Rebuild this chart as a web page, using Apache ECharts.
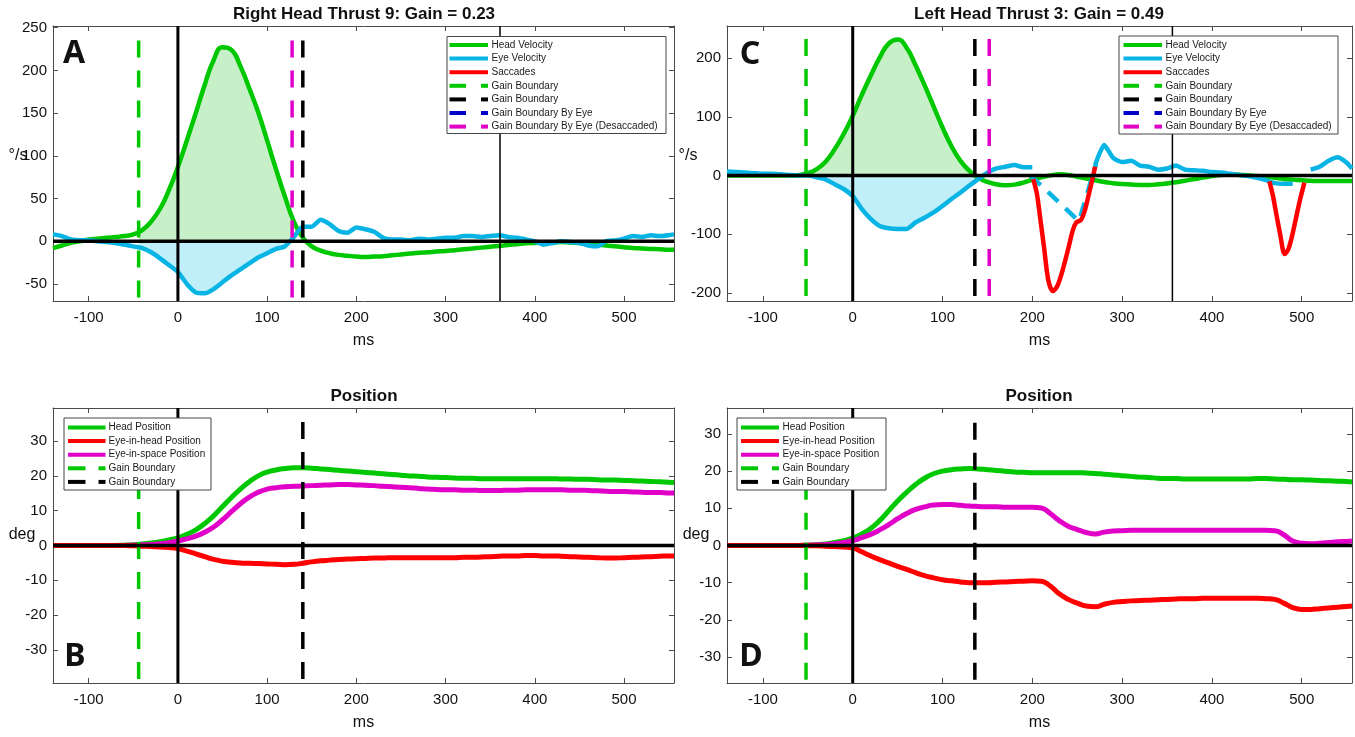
<!DOCTYPE html>
<html><head><meta charset="utf-8">
<script src="https://cdn.jsdelivr.net/npm/echarts@6/dist/echarts.min.js"></script>
<style>html,body{margin:0;padding:0;background:#fff}#c{width:1355px;height:737px}</style>
</head><body><div id="c"></div>
<script>
// ---------- DATA ----------
const timeMs = [
 -140,-130,-120,-110,-100,-90,-80,-70,-60,-50,
 -40,-30,-20,-10,0,10,20,30,40,50,
 60,70,80,90,100,110,120,130,140,150,
 160,170,180,190,200,210,220,230,240,250,
 260,270,280,290,300,310,320,330,340,350,
 360,370,380,390,400,410,420,430,440,450,
 460,470,480,490,500,510,520,530,540,550,
 556];
const xTicks = [-100,0,100,200,300,400,500];
const velTicksA = [-50,0,50,100,150,200,250];
const velTicksC = [-200,-100,0,100,200];
const posTicks = [-30,-20,-10,0,10,20,30];
const xRange = [-140,556];
const yRangeA = [-70,252], yRangeC = [-214,255], yRangeB = [-39.5,39.5], yRangeD = [-37,37];

const headVelA = [
 -8,-5,-2,0,2,3,4,5,6,8,
 13,23,38,60,87,118,150,183,212,227,
 224,205,179,151,118,84,52,23,4,-6,
 -11,-14,-16,-17,-18,-18.5,-18,-17.5,-16.5,-15.5,
 -14.5,-13.5,-13,-12,-11.5,-10.5,-9.5,-8.5,-7.5,-6.5,
 -5.5,-4.5,-3.5,-2.5,-2,-1.5,-1.2,-1,-1.5,-2,
 -3,-4,-5,-6,-7,-8,-8.5,-9,-9.5,-10,
 -10];
const eyeVelA = [
 8,6,2,1,1,0,-1,-2,-4,-6,
 -8,-13,-20,-28,-36,-50,-60,-61,-56,-48,
 -40,-33,-26,-19,-14,-9,-6,5,17,17,
 25,20,12,10,16,14,11,4,2,2,
 1,3,2,3,4,4,6,6,5,6,
 7,5,4,2,0,-4,-2,0,-1,-2,
 -5,-6,0,1,3,6,5,7,6,7,
 8];
const headVelC = [
 0,0,0,0,0,0,0,0,1,4,
 11,24,45,71,102,137,170,201,225,232,
 218,188,154,118,82,50,25,8,-4,-11,
 -15,-16.5,-15.5,-12,-7,-3,0,2,1,-2,
 -5,-8,-11,-13,-14.5,-15.5,-16,-16,-15,-13.5,
 -11.5,-9,-6,-3.5,-1,1,2,1.5,0.5,-1,
 -2,-4,-6,-7,-8,-9,-9.5,-9.5,-9.5,-9.5,
 -9.5];
const eyeVelC = [
 7,6,5,4,3,3,2,1,0,0,
 -3,-7,-15,-23,-35,-57,-74,-86,-90,-91,
 -91,-80,-72,-63,-52,-40,-29,-17,-6,5,
 12,15,18,14,14,null,null,null,null,null,
 null,18,52,30,23,25,17,15,10,12,
 17,10,9,8,6,5,3,1,-1,-4,
 -8,-13,-14,-14,null,10,15,25,31,22,
 12];
const eyeDesacT = [198,252,271];
const eyeDesacV = [0,-78,20];
const sacc1T = [201,205,209,213,218,223,228,234,240,245,249,254,258,262,266,270];
const sacc1V = [-6,-30,-75,-122,-180,-197,-188,-160,-125,-94,-80,-76,-62,-38,-12,15];
const sacc2T = [464,468,472,476,481,485,489,493,498,503];
const sacc2V = [-10,-35,-68,-100,-134,-126,-105,-77,-42,-12];

const headPosB = [
 0,0,0,0,0,0,0,0,0.1,0.2,
 0.4,0.7,1.1,1.6,2.2,3.2,4.5,6.3,8.5,11.2,
 13.8,16.2,18.3,20.0,21.1,21.7,22.1,22.3,22.3,22.2,
 22.0,21.8,21.6,21.4,21.2,21.0,20.8,20.6,20.4,20.2,
 20.0,19.9,19.7,19.6,19.5,19.4,19.3,19.3,19.2,19.2,
 19.2,19.2,19.2,19.2,19.2,19.2,19.2,19.1,19.1,19.0,
 19.0,18.9,18.8,18.8,18.7,18.6,18.5,18.4,18.3,18.2,
 18.1];
const eyeSpacePosB = [
 0,0,0,0,0,0,0,0,0,0.1,
 0.2,0.3,0.5,0.8,1.3,1.9,2.7,3.8,5.3,7.4,
 9.7,12.0,13.9,15.3,16.2,16.6,16.9,17.0,17.1,17.2,
 17.3,17.4,17.5,17.5,17.4,17.3,17.2,17.0,16.9,16.7,
 16.6,16.4,16.2,16.1,16.0,16.0,15.9,15.9,15.8,15.8,
 15.8,15.9,15.9,16.0,16.0,16.0,16.0,16.0,15.9,15.9,
 15.8,15.7,15.6,15.5,15.5,15.4,15.3,15.2,15.2,15.1,
 15.1];
const eyeHeadPosB = [
 0,0,0,0,0,0,0,0,0,-0.1,
 -0.2,-0.3,-0.4,-0.6,-0.9,-1.6,-2.4,-3.2,-4.0,-4.5,
 -4.8,-5.0,-5.1,-5.2,-5.3,-5.4,-5.5,-5.4,-5.1,-4.7,
 -4.4,-4.2,-4.0,-3.9,-3.8,-3.7,-3.6,-3.6,-3.5,-3.5,
 -3.5,-3.5,-3.5,-3.5,-3.5,-3.5,-3.4,-3.4,-3.3,-3.2,
 -3.1,-3.0,-3.0,-2.9,-2.9,-3.0,-3.0,-3.1,-3.2,-3.3,
 -3.4,-3.5,-3.6,-3.6,-3.5,-3.4,-3.3,-3.2,-3.1,-3.0,
 -3.0];
const headPosD = [
 0,0,0,0,0,0,0,0,0,0.1,
 0.2,0.4,0.8,1.3,2.0,3.1,4.6,6.7,9.3,12.0,
 14.3,16.4,18.1,19.3,20.0,20.4,20.6,20.7,20.6,20.4,
 20.2,20.0,19.8,19.7,19.6,19.6,19.6,19.6,19.6,19.6,
 19.5,19.4,19.2,19.0,18.8,18.6,18.4,18.3,18.1,18.0,
 18.0,17.9,17.9,17.9,17.9,17.9,17.9,17.9,17.9,18.0,
 18.0,17.9,17.8,17.7,17.7,17.6,17.5,17.4,17.3,17.2,
 17.1];
const eyeSpacePosD = [
 0,0,0,0,0,0,0,0,0,0.1,
 0.2,0.3,0.5,0.8,1.3,2.1,3.0,4.2,5.6,7.2,
 8.6,9.7,10.4,10.9,11.0,11.0,10.8,10.6,10.5,10.4,
 10.4,10.3,10.3,10.3,10.3,10.1,8.6,6.7,5.2,4.3,
 3.5,3.1,3.6,3.9,4.0,4.1,4.1,4.1,4.1,4.1,
 4.1,4.1,4.1,4.1,4.1,4.1,4.1,4.1,4.1,4.1,
 4.1,4.0,2.9,1.2,0.6,0.5,0.6,0.8,1.0,1.1,
 1.2];
const eyeHeadPosD = [
 0,0,0,0,0,0,0,0,0,-0.05,
 -0.1,-0.2,-0.3,-0.4,-0.6,-1.7,-2.8,-3.8,-4.7,-5.6,
 -6.4,-7.3,-8.1,-8.7,-9.2,-9.5,-9.8,-10.0,-10.0,-10.0,
 -9.9,-9.8,-9.7,-9.6,-9.5,-9.6,-10.9,-13.0,-14.5,-15.5,
 -16.3,-16.5,-15.8,-15.3,-15.1,-14.9,-14.8,-14.7,-14.6,-14.5,
 -14.4,-14.3,-14.3,-14.2,-14.2,-14.2,-14.2,-14.2,-14.2,-14.2,
 -14.3,-14.5,-15.5,-16.7,-17.2,-17.2,-17.0,-16.8,-16.6,-16.4,
 -16.3];

// boundaries: [green gain, black gain, magenta (desaccaded)]
const gainBoundsA = [-44,140,128];
const gainBoundsC = [-52,136,152];
const gainBoundsB = [-44,140];
const gainBoundsD = [-52,136];
const dashTopVel = [235,233];
const dashTopPos = [35.5,33];
const thinLineMs = [361,356];

const titles = ['Right Head Thrust 9: Gain = 0.23','Left Head Thrust 3: Gain = 0.49','Position','Position'];
const panelLetters = ['A','C','B','D'];
const velLegendLabels = ['Head Velocity','Eye Velocity','Saccades','Gain Boundary','Gain Boundary','Gain Boundary By Eye','Gain Boundary By Eye (Desaccaded)'];
const posLegendLabels = ['Head Position','Eye-in-head Position','Eye-in-space Position','Gain Boundary','Gain Boundary'];

// ---------- STYLE ----------
const GREEN='#00c800', CYAN='#08b4e4', RED='#ff0000', MAGENTA='#e000c8', BLUE='#0000c8', BLACK='#000';
const FILLG='#c8f0c8', FILLC='#c0eff9';
const FONT="'Liberation Sans', Arial, sans-serif";
const AXC='#4a4a4a';

const grids = [
 {left:53, top:26, width:621, height:275},
 {left:727, top:26, width:625, height:275},
 {left:53, top:408, width:621, height:275},
 {left:727, top:408, width:625, height:275}
];
const yRanges=[yRangeA,yRangeC,yRangeB,yRangeD];
const yTicks=[velTicksA,velTicksC,posTicks,posTicks];

function pairs(ts, vs){ return ts.map((t,i)=>[t, vs[i]==null?'-':vs[i]]); }
function interp(ts,vs,x){ for(let i=0;i<ts.length-1;i++){ if(ts[i]<=x&&x<=ts[i+1]){const f=(x-ts[i])/(ts[i+1]-ts[i]);return vs[i]+f*(vs[i+1]-vs[i]);} } return 0; }
function clipSeg(ts,vs,a,b){ const out=[[a,interp(ts,vs,a)]]; ts.forEach((t,i)=>{ if(t>a&&t<b&&vs[i]!=null) out.push([t,vs[i]]); }); out.push([b,interp(ts,vs,b)]); return out; }

const xAxes=[], yAxes=[];
grids.forEach((g,i)=>{
  const base = {type:'value', gridIndex:i, min:xRange[0], max:xRange[1], splitLine:{show:false},
    axisLine:{onZero:false, lineStyle:{color:AXC,width:1}},
    axisTick:{inside:true,length:5,customValues:xTicks,lineStyle:{color:AXC}}};
  xAxes.push(Object.assign({}, base, {position:'bottom',
    axisLabel:{customValues:xTicks, margin:9, fontSize:15, color:'#111', fontFamily:FONT},
    name:'ms', nameLocation:'middle', nameGap:32, nameTextStyle:{fontSize:16,color:'#111',fontFamily:FONT}}));
  xAxes.push(Object.assign({}, base, {position:'top', axisLabel:{show:false}}));
  const yb = {type:'value', gridIndex:i, min:yRanges[i][0], max:yRanges[i][1], splitLine:{show:false},
    axisLine:{onZero:false, lineStyle:{color:AXC,width:1}},
    axisTick:{inside:true,length:5,customValues:yTicks[i],lineStyle:{color:AXC}}};
  yAxes.push(Object.assign({}, yb, {position:'left', axisLabel:{customValues:yTicks[i], margin:6, fontSize:15, color:'#111', fontFamily:FONT}}));
  yAxes.push(Object.assign({}, yb, {position:'right', axisLabel:{show:false}}));
});

const series=[];
function line(gi, data, color, width, opts){
  series.push(Object.assign({type:'line', xAxisIndex:2*gi, yAxisIndex:2*gi, data, showSymbol:false, symbol:'none',
    lineStyle:{color, width, join:'round', cap:'butt'}, z:3, smooth:0.5, connectNulls:false, silent:true, animation:false}, opts||{}));
}
function area(gi, data, color){
  series.push({type:'line', xAxisIndex:2*gi, yAxisIndex:2*gi, data, showSymbol:false, symbol:'none',
    lineStyle:{width:0, color}, areaStyle:{color, opacity:1}, z:1, smooth:0.5, silent:true, animation:false});
}
function vline(gi, t, y0, y1, color, width, dashed){
  line(gi, [[t,y0],[t,y1]], color, width, {smooth:false, z: dashed?4:5, lineStyle:{color,width,type: dashed?[17,13]:'solid', cap:'butt'}});
}
function hzero(gi){ line(gi, [[xRange[0],0],[xRange[1],0]], BLACK, 3.5, {smooth:false, z:5, lineStyle:{color:BLACK,width:3.5,cap:'butt'}}); }

// Panel A (grid 0)
area(0, clipSeg(timeMs, headVelA, gainBoundsA[0], gainBoundsA[2]), FILLG);
area(0, clipSeg(timeMs, eyeVelA, gainBoundsA[0], gainBoundsA[2]), FILLC);
line(0, pairs(timeMs, headVelA), GREEN, 4.5);
line(0, pairs(timeMs, eyeVelA), CYAN, 4.5, {smooth:0.2});
vline(0, gainBoundsA[0], dashTopVel[0], yRangeA[0], GREEN, 3.5, true);
vline(0, gainBoundsA[2], dashTopVel[0], yRangeA[0], MAGENTA, 3.5, true);
vline(0, gainBoundsA[1], dashTopVel[0], yRangeA[0], BLACK, 3.5, true);
hzero(0);
vline(0, 0, yRangeA[0], yRangeA[1], BLACK, 3, false);
vline(0, thinLineMs[0], yRangeA[0], yRangeA[1], BLACK, 1.5, false);

// Panel C (grid 1)
area(1, clipSeg(timeMs, headVelC, gainBoundsC[0], gainBoundsC[1]), FILLG);
area(1, clipSeg(timeMs, eyeVelC, gainBoundsC[0], gainBoundsC[1]), FILLC);
line(1, pairs(timeMs, headVelC), GREEN, 4.5);
line(1, pairs(timeMs, eyeVelC), CYAN, 4.5, {smooth:0.2});
line(1, pairs(eyeDesacT, eyeDesacV), CYAN, 4.5, {smooth:false, lineStyle:{color:CYAN,width:4.5,type:[14,10]}});
line(1, pairs(sacc1T, sacc1V), RED, 4.5, {smooth:0.3});
line(1, pairs(sacc2T, sacc2V), RED, 4.5, {smooth:0.3});
vline(1, gainBoundsC[0], dashTopVel[1], yRangeC[0], GREEN, 3.5, true);
vline(1, gainBoundsC[1], dashTopVel[1], yRangeC[0], BLACK, 3.5, true);
vline(1, gainBoundsC[2], dashTopVel[1], yRangeC[0], MAGENTA, 3.5, true);
hzero(1);
vline(1, 0, yRangeC[0], yRangeC[1], BLACK, 3, false);
vline(1, thinLineMs[1], yRangeC[0], yRangeC[1], BLACK, 1.5, false);

// Panel B (grid 2)
line(2, pairs(timeMs, headPosB), GREEN, 5);
line(2, pairs(timeMs, eyeSpacePosB), MAGENTA, 5);
line(2, pairs(timeMs, eyeHeadPosB), RED, 5);
vline(2, gainBoundsB[0], dashTopPos[0], yRangeB[0], GREEN, 3.5, true);
vline(2, gainBoundsB[1], dashTopPos[0], yRangeB[0], BLACK, 3.5, true);
hzero(2);
vline(2, 0, yRangeB[0], yRangeB[1], BLACK, 3, false);

// Panel D (grid 3)
line(3, pairs(timeMs, headPosD), GREEN, 5);
line(3, pairs(timeMs, eyeSpacePosD), MAGENTA, 5);
line(3, pairs(timeMs, eyeHeadPosD), RED, 5);
vline(3, gainBoundsD[0], dashTopPos[1], yRangeD[0], GREEN, 3.5, true);
vline(3, gainBoundsD[1], dashTopPos[1], yRangeD[0], BLACK, 3.5, true);
hzero(3);
vline(3, 0, yRangeD[0], yRangeD[1], BLACK, 3, false);

// ---------- GRAPHIC: titles, letters, units, legends ----------
const graphic=[];
function txt(x,y,text,size,weight,family,align){
  graphic.push({type:'text', x, y, z:120, silent:true, style:{text, fontSize:size, fontWeight:weight||'normal', fontFamily:family||FONT, fill:'#111', textAlign:align||'center', textVerticalAlign:'middle'}});
}
txt(364,14,titles[0],17,'bold');
txt(1039,14,titles[1],17,'bold');
txt(364,396,titles[2],17,'bold');
txt(1039,396,titles[3],17,'bold');
const LF="'Noto Sans', 'Open Sans', sans-serif";
txt(74,54,panelLetters[0],32,'bold',LF);
txt(750,55,panelLetters[1],32,'bold',LF);
txt(75,657,panelLetters[2],32,'bold',LF);
txt(751,657,panelLetters[3],32,'bold',LF);
txt(18,156,'°/s',16);
txt(688,156,'°/s',16);
txt(22,535,'deg',16);
txt(696,535,'deg',16);

function legend(box, sample, dash, textX, row0, labels, colors, dashed){
  graphic.push({type:'rect', z:110, silent:true, shape:{x:box[0],y:box[1],width:box[2],height:box[3]}, style:{fill:'#fff', stroke:'#444', lineWidth:1}});
  labels.forEach((lab,i)=>{
    const y = row0 + i*13.6;
    const segs = dashed[i] ? dash : [sample];
    segs.forEach(s=>graphic.push({type:'line', z:111, silent:true, shape:{x1:s[0],y1:y,x2:s[1],y2:y}, style:{stroke:colors[i], lineWidth:4}}));
    graphic.push({type:'text', x:textX, y:y, z:112, silent:true, style:{text:lab, fontSize:10, fontFamily:FONT, fill:'#1a1a1a', textAlign:'left', textVerticalAlign:'middle'}});
  });
}
const velColors=[GREEN,CYAN,RED,GREEN,BLACK,BLUE,MAGENTA];
const velDashed=[false,false,false,true,true,true,true];
const posColors=[GREEN,RED,MAGENTA,GREEN,BLACK];
const posDashed=[false,false,false,true,true];
legend([447,36.5,219,97],[449.5,488],[[449.5,466],[481,488]],491.5,45,velLegendLabels,velColors,velDashed);
legend([1119,36,219,98],[1123.5,1162],[[1123.5,1139],[1154.5,1162]],1165.5,45,velLegendLabels,velColors,velDashed);
legend([64,418,147,72],[68,105.5],[[68,85.5],[98.5,105.5]],108.5,427.5,posLegendLabels,posColors,posDashed);
legend([737,418,149,72],[741,779],[[741,758],[772,779]],782.5,427.5,posLegendLabels,posColors,posDashed);

const chart = echarts.init(document.getElementById('c'), null, {renderer:'canvas'});
chart.setOption({
  animation:false,
  backgroundColor:'#fff',
  grid: grids.map(g=>Object.assign({containLabel:false}, g)),
  xAxis: xAxes, yAxis: yAxes, series, graphic
});
</script></body></html>
